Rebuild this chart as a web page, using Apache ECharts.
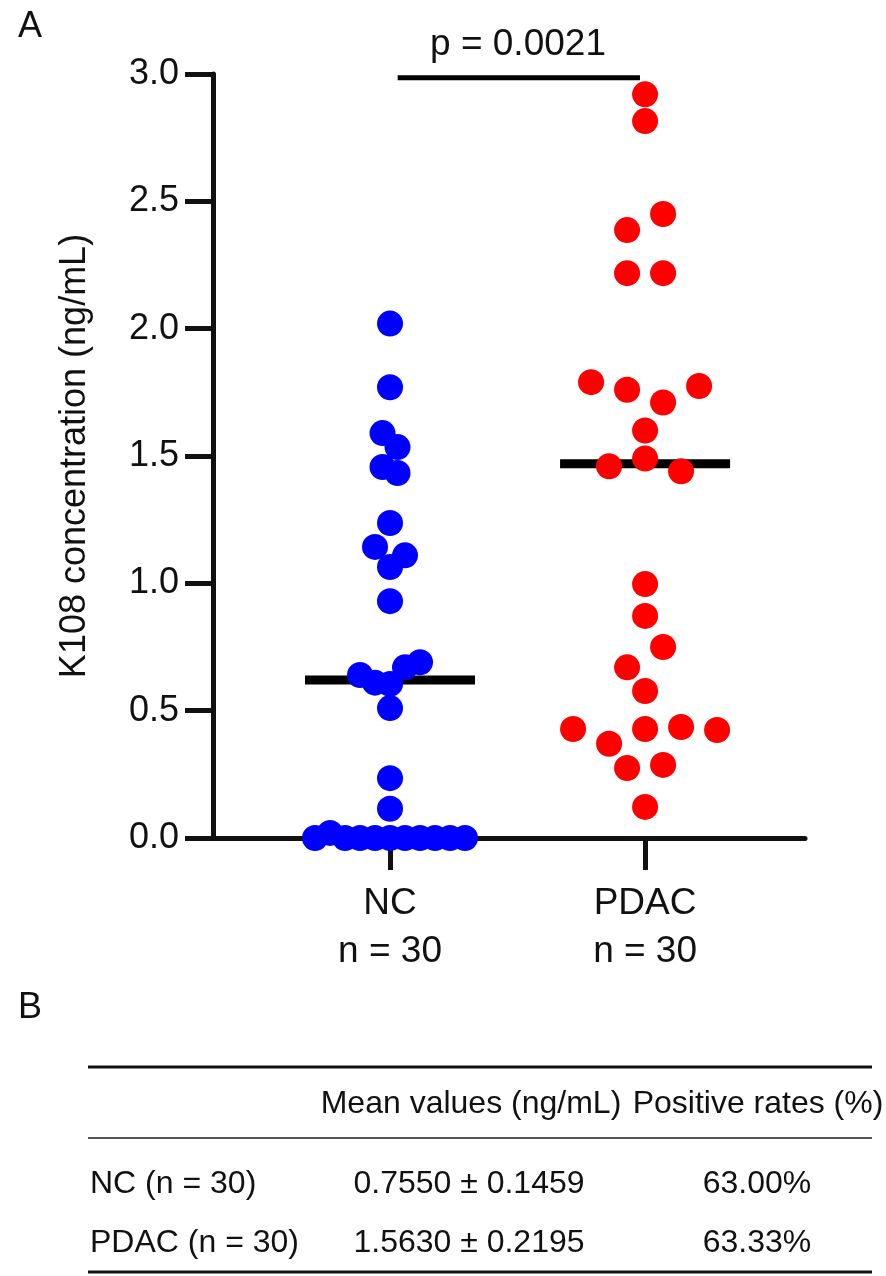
<!DOCTYPE html>
<html>
<head>
<meta charset="utf-8">
<script src="https://cdn.jsdelivr.net/npm/echarts@6/dist/echarts.min.js"></script>
<style>
  html, body { margin: 0; padding: 0; background: #fff; }
  #main { width: 886px; height: 1276px; }
</style>
</head>
<body>
<div id="main"></div>
<script>
// categories and data
var categories = ['NC', 'PDAC'];
var groupSizes = ['n = 30', 'n = 30'];
var yTicks = [0, 0.5, 1.0, 1.5, 2.0, 2.5, 3.0];

// K108 values, listed top to bottom, left to right as they appear
var ncValues = [2.02, 1.77, 1.59, 1.535, 1.457, 1.433, 1.237, 1.143, 1.064, 1.11,
    0.93, 0.64, 0.61, 0.605, 0.67, 0.69, 0.51, 0.235, 0.115,
    0, 0.02, 0, 0, 0, 0, 0, 0, 0, 0, 0];
var pdacValues = [2.92, 2.815, 2.387, 2.45, 2.218, 2.218, 1.79, 1.76, 1.71, 1.775,
    1.60, 1.46, 1.49, 1.44, 0.997, 0.872, 0.67, 0.75, 0.577,
    0.428, 0.37, 0.428, 0.436, 0.424, 0.275, 0.287, 0.122];
var medians = [0.62, 1.47];
var pValue = 'p = 0.0021';

// table B
var tableHead = ['Mean values (ng/mL)', 'Positive rates (%)'];
var tableGroups = ['NC (n = 30)', 'PDAC (n = 30)'];
var tableMeans = ['0.7550 \u00b1 0.1459', '1.5630 \u00b1 0.2195'];
var tableRates = ['63.00%', '63.33%'];

var FONT = '"Liberation Sans", Arial, sans-serif';
var TXT = '#111';

// layout of the plot area
var gridLeft = 213, gridRight = 81, gridTop = 74, gridBottom = 438;
var xMin = 0.306, xMax = 2.627;
var pxPerUnit = (886 - gridLeft - gridRight) / (xMax - xMin);

// prism-like scatter: points that sit close in value share a row
function swarm(values, center) {
    var tol = 0.09, rowWidth = 150, maxStep = 36;
    var idx = values.map(function (v, i) { return i; })
        .sort(function (a, b) { return values[b] - values[a]; });
    var rows = [];
    idx.forEach(function (i) {
        var r = rows[rows.length - 1];
        if (r && values[r[0]] - values[i] <= tol) r.push(i);
        else rows.push([i]);
    });
    var maxN = Math.max.apply(null, rows.map(function (r) { return r.length; }));
    var step = Math.min(maxStep, rowWidth / Math.max(1, maxN - 1));
    var pts = [];
    rows.forEach(function (r) {
        r.sort(function (a, b) { return a - b; });
        r.forEach(function (i, k) {
            var off = (k - (r.length - 1) / 2) * step;
            pts.push([center + off / pxPerUnit, values[i]]);
        });
    });
    return pts;
}

var halfMed = 85 / pxPerUnit;
function medianLine(center, m) {
    return [[center - halfMed, m], [center + halfMed, m]];
}

var chart = echarts.init(document.getElementById('main'));

var graphic = [
    { type: 'text', x: 30, y: 27, style: { text: 'A', font: '36px ' + FONT, fill: TXT, align: 'center', verticalAlign: 'middle' } },
    { type: 'text', x: 30, y: 1008, style: { text: 'B', font: '36px ' + FONT, fill: TXT, align: 'center', verticalAlign: 'middle' } },
    { type: 'line', shape: { x1: 88, y1: 1067, x2: 872, y2: 1067 }, style: { stroke: '#111', lineWidth: 3 } },
    { type: 'line', shape: { x1: 88, y1: 1138, x2: 872, y2: 1138 }, style: { stroke: '#555', lineWidth: 2 } },
    { type: 'line', shape: { x1: 88, y1: 1272, x2: 872, y2: 1272 }, style: { stroke: '#111', lineWidth: 3 } },
    { type: 'text', x: 471, y: 1104, style: { text: tableHead[0], font: '32px ' + FONT, fill: TXT, align: 'center', verticalAlign: 'middle' } },
    { type: 'text', x: 758, y: 1104, style: { text: tableHead[1], font: '32px ' + FONT, fill: TXT, align: 'center', verticalAlign: 'middle' } },
    // p value over the significance bar
    { type: 'text', x: 518, y: 45, style: { text: pValue, font: '37px ' + FONT, fill: TXT, align: 'center', verticalAlign: 'middle' } }
];
var rowY = [1184, 1243];
tableGroups.forEach(function (g, i) {
    graphic.push({ type: 'text', x: 90, y: rowY[i], style: { text: g, font: '32px ' + FONT, fill: TXT, align: 'left', verticalAlign: 'middle' } });
    graphic.push({ type: 'text', x: 469, y: rowY[i], style: { text: tableMeans[i], font: '32px ' + FONT, fill: TXT, align: 'center', verticalAlign: 'middle' } });
    graphic.push({ type: 'text', x: 757, y: rowY[i], style: { text: tableRates[i], font: '32px ' + FONT, fill: TXT, align: 'center', verticalAlign: 'middle' } });
});

option = {
    animation: false,
    backgroundColor: '#fff',
    textStyle: { fontFamily: FONT },
    grid: { left: gridLeft, right: gridRight, top: gridTop, bottom: gridBottom },
    xAxis: {
        type: 'value',
        min: xMin,
        max: xMax,
        splitLine: { show: false },
        axisLine: { lineStyle: { color: '#111', width: 5 } },
        axisTick: { customValues: [1, 2], length: 32, lineStyle: { color: '#111', width: 5 } },
        axisLabel: {
            customValues: [1, 2],
            margin: 42,
            fontSize: 37,
            lineHeight: 48,
            color: TXT,
            formatter: function (v) {
                var i = Math.round(v) - 1;
                return categories[i] + '\n' + groupSizes[i];
            }
        }
    },
    yAxis: {
        type: 'value',
        min: 0,
        max: 3,
        interval: 0.5,
        name: 'K108 concentration (ng/mL)',
        nameLocation: 'middle',
        nameGap: 120,
        nameTextStyle: { fontSize: 36, color: TXT },
        splitLine: { show: false },
        axisLine: { lineStyle: { color: '#111', width: 5 } },
        axisTick: { length: 28, lineStyle: { color: '#111', width: 5 } },
        axisLabel: {
            fontSize: 36,
            color: TXT,
            margin: 34,
            customValues: yTicks,
            formatter: function (v) { return v.toFixed(1); }
        }
    },
    graphic: graphic,
    series: [
        {
            type: 'line', data: medianLine(1, medians[0]), symbol: 'none', z: 1,
            lineStyle: { color: '#000', width: 9 }
        },
        {
            type: 'line', data: medianLine(2, medians[1]), symbol: 'none', z: 1,
            lineStyle: { color: '#000', width: 9 }
        },
        {
            name: categories[0], type: 'scatter', data: swarm(ncValues, 1), z: 3, clip: false,
            symbolSize: 26, itemStyle: { color: '#0000ff', opacity: 1 }
        },
        {
            name: categories[1], type: 'scatter', data: swarm(pdacValues, 2), z: 3, clip: false,
            symbolSize: 26, itemStyle: { color: '#ff0000', opacity: 1 }
        },
        {
            // significance bar between the two groups
            type: 'line', data: [[1.03, 2.985], [1.98, 2.985]], symbol: 'none', z: 2,
            lineStyle: { color: '#000', width: 5 }
        }
    ]
};
chart.setOption(option);
</script>
</body>
</html>
